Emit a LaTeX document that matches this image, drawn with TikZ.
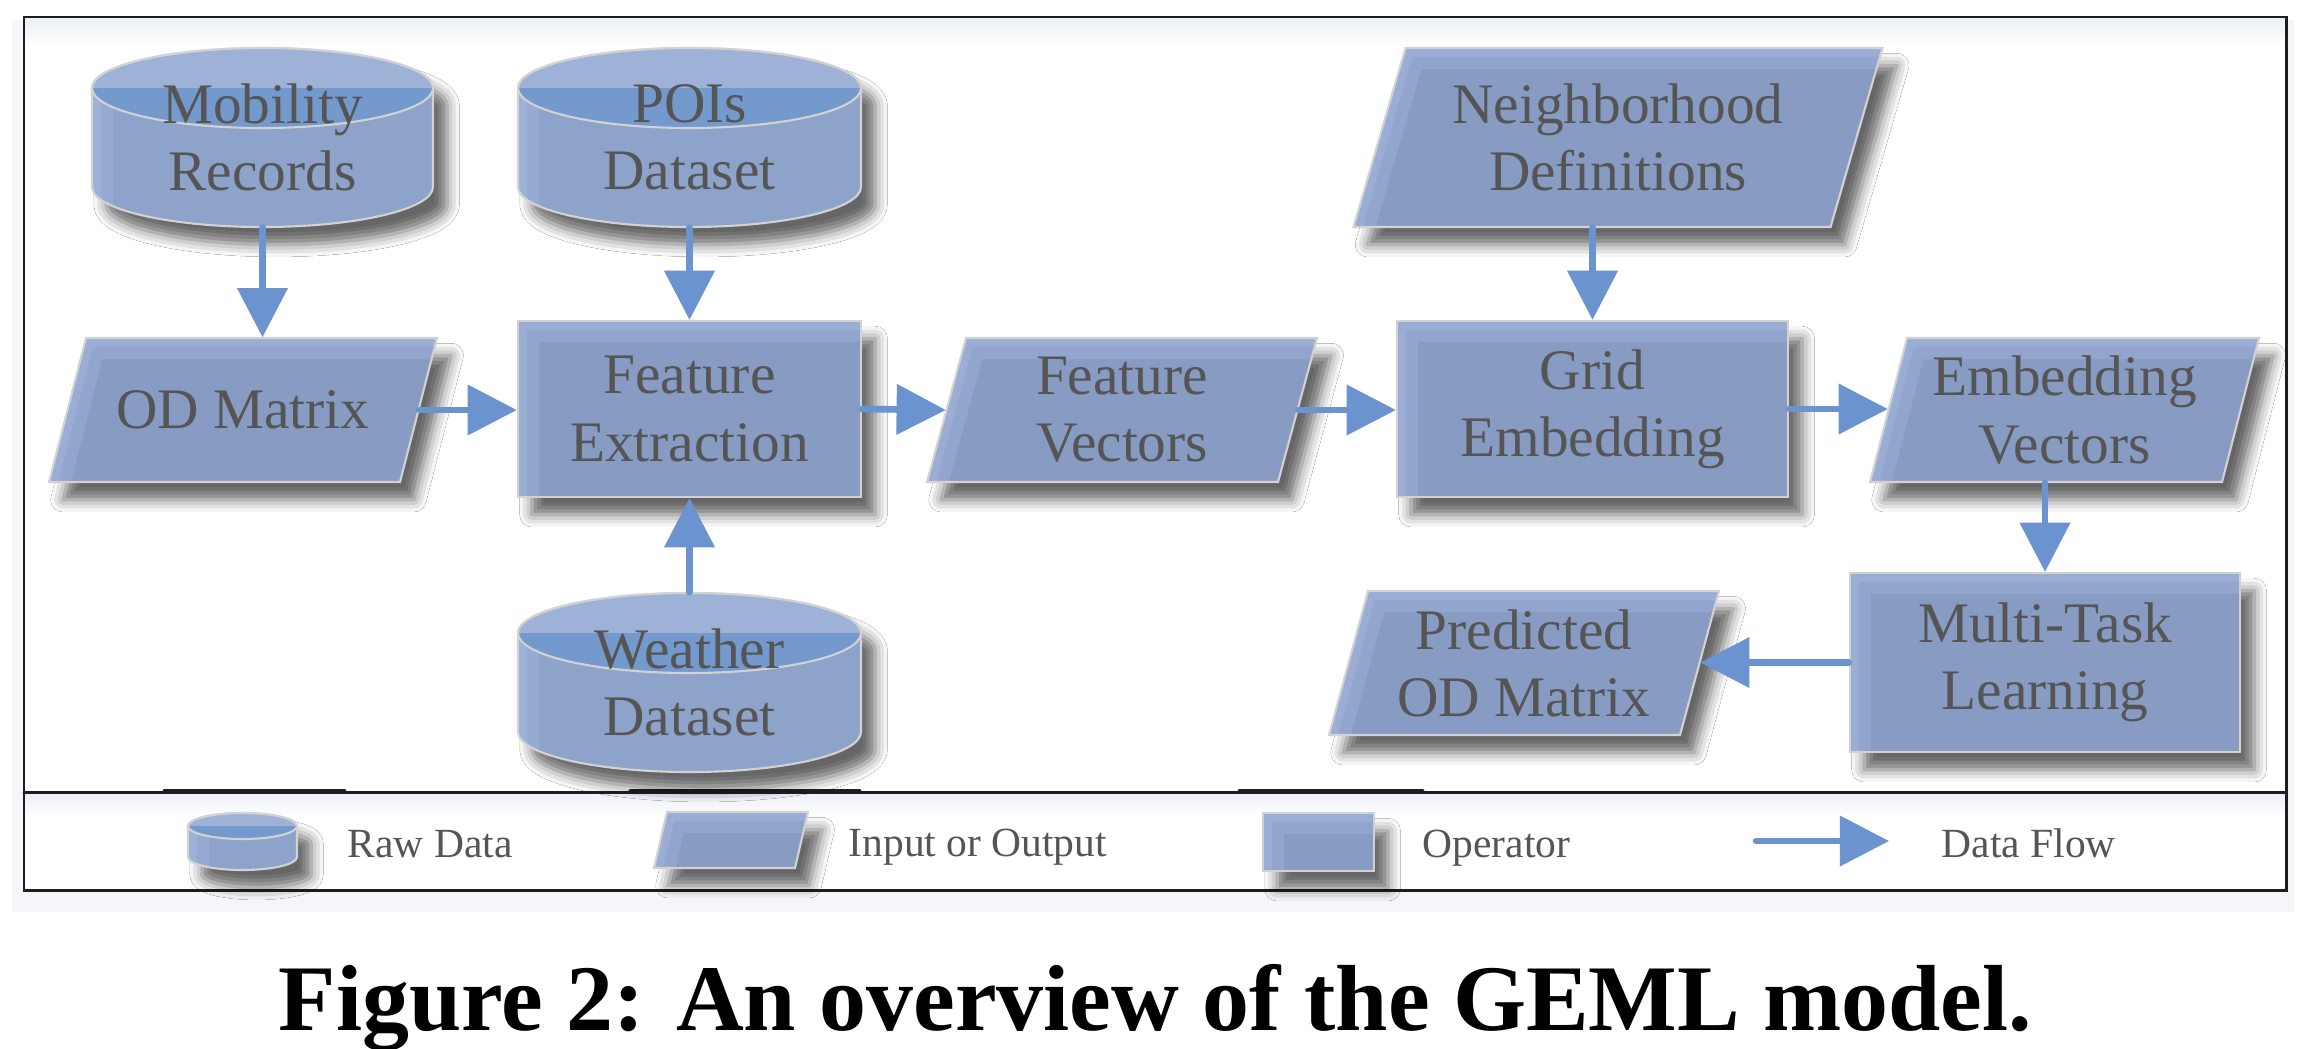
\documentclass[tikz,border=0pt]{standalone}
\usepackage{fontspec}
\setmainfont{Liberation Serif}
\usetikzlibrary{arrows.meta, positioning, shadows.blur}
\tikzset{x=0.01cm, y=-0.01cm, >={Triangle[length=14pt, width=14pt]}}

\begin{document}
\begin{tikzpicture}
% Style
[
    font=\fontsize{16.3}{19.1}\selectfont, line cap=round,
    soft shadow/.style={blur shadow={shadow xshift=4pt, shadow yshift=-5pt,
        shadow blur radius=3.5pt, shadow opacity=60}},
    light strip/.style={draw=box_light, line width=12pt, opacity=0.3},
    light edge/.style={draw=box_light, line width=5pt, opacity=0.35},
    db shape/.style={fill=db_body, draw=edge_gray, line width=0.6pt, soft shadow},
    db edge/.style={draw=edge_gray, line width=0.6pt},
    io shape/.style={fill=box_fill, draw=edge_gray, line width=0.6pt, soft shadow},
    label text/.style={text=text_gray, align=center, inner sep=0pt},
    operator/.style={
        rectangle, fill=box_fill, draw=edge_gray, line width=0.6pt, soft shadow,
        text=text_gray, align=center, inner sep=0pt,
        path picture={
            \draw [light strip] (path picture bounding box.south west) --
                (path picture bounding box.north west) -- (path picture bounding box.north east);
            \draw [light edge] (path picture bounding box.south west) --
                (path picture bounding box.north west) -- (path picture bounding box.north east);
        }
    },
    data flow/.style={->, draw=flow_blue, line width=1.9pt},
    legend text/.style={text=text_gray, anchor=base west, inner sep=0pt,
        font=\fontsize{11.8}{14}\selectfont},
    caption text/.style={anchor=base, inner sep=0pt,
        font=\fontsize{26.7}{32}\selectfont\bfseries},
    frame line/.style={draw=frame_black, line width=0.85pt}
]

% Define: Colors
\definecolor{box_fill}{RGB}{135,155,195}
\definecolor{box_light}{RGB}{170,190,230}
\definecolor{db_body}{RGB}{142,163,202}
\definecolor{db_top}{RGB}{158,178,216}
\definecolor{db_cap}{RGB}{116,153,204}
\definecolor{edge_gray}{RGB}{210,210,210}
\definecolor{text_gray}{RGB}{85,85,85}
\definecolor{flow_blue}{RGB}{106,147,208}
\definecolor{frame_black}{RGB}{30,30,30}
\definecolor{page_tint}{RGB}{244,246,250}
\definecolor{band_tint}{RGB}{236,240,247}

%================================== Prepare ==================================
% #1 name, #2/#3 centre, #4 width, #5 height, #6 cap radius, #7 text
\def\drawdb#1#2#3#4#5#6#7{
    \path [db shape, path picture={
        \draw [light strip] (path picture bounding box.north west) --
            (path picture bounding box.south west);
        \draw [light edge] (path picture bounding box.north west) --
            (path picture bounding box.south west);
    }] {
        ({#2-#4/2},{#3-#5/2+#6})
            arc [start angle=180, end angle=360, x radius=#4/2, y radius=#6] --
        ({#2+#4/2},{#3+#5/2-#6})
            arc [start angle=0, end angle=180, x radius=#4/2, y radius=#6] -- cycle
    };
    \fill [db_top] ({#2-#4/2},{#3-#5/2+#6})
        arc [start angle=180, end angle=360, x radius=#4/2, y radius=#6] -- cycle;
    \fill [db_cap] ({#2-#4/2},{#3-#5/2+#6})
        arc [start angle=180, end angle=0, x radius=#4/2, y radius=#6] -- cycle;
    \draw [db edge] (#2,{#3-#5/2+#6}) ellipse [x radius=#4/2, y radius=#6];
    \node [label text, minimum width=#4*0.01cm, minimum height=#5*0.01cm] (#1) at (#2,#3) {#7};
}

% #1 name, #2/#3 centre, #4 width, #5 height, #6 slant, #7 text
\def\drawio#1#2#3#4#5#6#7{
    \coordinate (#1 tl) at ({#2-#4/2+#6/2},{#3-#5/2});
    \coordinate (#1 tr) at ({#2+#4/2+#6/2},{#3-#5/2});
    \coordinate (#1 br) at ({#2+#4/2-#6/2},{#3+#5/2});
    \coordinate (#1 bl) at ({#2-#4/2-#6/2},{#3+#5/2});
    \path [io shape, path picture={
        \draw [light strip] (#1 bl) -- (#1 tl) -- (#1 tr);
        \draw [light edge] (#1 bl) -- (#1 tl) -- (#1 tr);
    }] (#1 tl) -- (#1 tr) -- (#1 br) -- (#1 bl) -- cycle;
    \node [label text, minimum width=#4*0.01cm, minimum height=#5*0.01cm] (#1) at (#2,#3) {#7};
}

%=================================== Start ===================================
\useasboundingbox (0,0) rectangle (2304,1048);

% Draw: Frame
\fill [page_tint] (12,20) rectangle (2294,912);
\fill [white] (24,17) rectangle (2286,890);
\shade [top color=band_tint, bottom color=white] (25,18) rectangle (2285,46);
\shade [top color=band_tint, bottom color=white] (25,793) rectangle (2285,818);
\draw [frame line] (24,17) rectangle (2286,890);
\draw [frame line] (24,792) -- (2286,792);
\foreach \xa/\xb in {165/344, 631/859, 1240/1422} {
    \draw [frame line, line width=1.4pt] (\xa,791) -- (\xb,791);
}

% Draw: Raw data
\drawdb{mob}{262.5}{137.5}{341}{179}{40}{Mobility\\Records}
\drawdb{poi}{689.5}{137.5}{343}{179}{40}{POIs\\Dataset}
\drawdb{wea}{689.5}{682.5}{343}{179}{40}{Weather\\Dataset}

% Draw: Input or output
\drawio{od}{243}{410}{351}{144}{37}{OD Matrix}
\drawio{fv}{1122}{410}{351}{144}{39}{Feature\\Vectors}
\drawio{nb}{1618}{137.5}{477}{179}{52}{Neighborhood\\Definitions}
\drawio{ev}{2064.5}{410}{352}{144}{37}{Embedding\\Vectors}
\drawio{pod}{1524}{663}{351}{144}{39}{Predicted\\OD Matrix}

% Draw: Operators
\node [operator, minimum width=3.43cm, minimum height=1.76cm] (fe) at (689.5,409) {Feature\\Extraction};
\node [operator, minimum width=3.91cm, minimum height=1.76cm] (ge) at (1592.5,409) {Grid\\Embedding};
\node [operator, minimum width=3.90cm, minimum height=1.79cm] (mtl) at (2045,662.5) {Multi-Task\\Learning};

% Draw: Data flow
\draw [data flow] (mob.south) -- (mob.south |- od.north);
\draw [data flow] (poi.south) -- (fe.north);
\draw [data flow] (wea.north) -- (fe.south);
\draw [data flow] (od.east) -- (od.east -| fe.west);
\draw [data flow] (fe.east) -- (fv.west);
\draw [data flow] (fv.east) -- (fv.east -| ge.west);
\draw [data flow] (ge.north |- nb.south) -- (ge.north);
\draw [data flow] (ge.east) -- (ge.east -| ev.west);
\draw [data flow] (mtl.north |- ev.south) -- (mtl.north);
\draw [data flow] (mtl.west) -- (mtl.west -| pod.east);

% Draw: Legend
\drawdb{lgdb}{242.5}{841.5}{109}{57}{13}{}
\node [legend text] (lgdbtxt) at (347,857) {Raw Data};
\drawio{lgio}{731}{840}{141}{56}{13}{}
\node [legend text] (lgiotxt) at (848,856) {Input or Output};
\node [operator, minimum width=1.11cm, minimum height=0.58cm] (lgop) at (1318.5,842) {};
\node [legend text] (lgoptxt) at (1422,857) {Operator};
\coordinate (lgflowa) at (1756,841);
\coordinate (lgflowb) at (1889,841);
\draw [data flow] (lgflowa) -- (lgflowb);
\node [legend text] (lgflowtxt) at (1941,857) {Data Flow};

% Draw: Caption
\node [caption text] (caption) at (1155.5,1030) {Figure 2: An overview of the GEML model.};
%==================================== END ====================================
\end{tikzpicture}
\end{document}
